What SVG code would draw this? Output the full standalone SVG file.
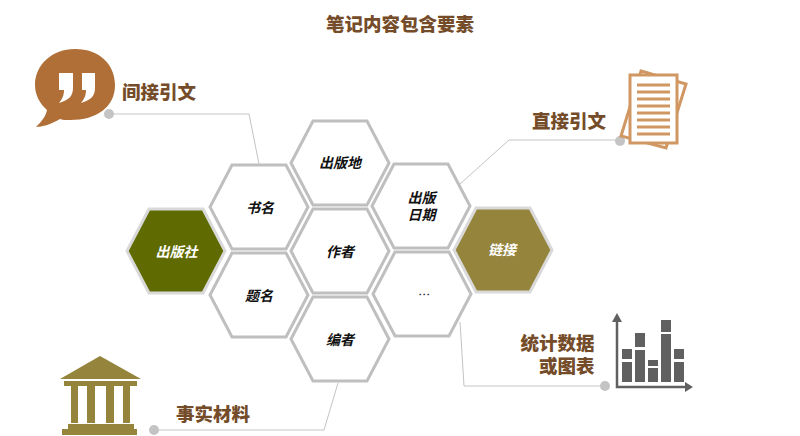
<svg xmlns="http://www.w3.org/2000/svg" width="800" height="436" viewBox="0 0 800 436">
<defs>
<style>
text{font-family:"Noto Sans CJK SC","Noto Sans",sans-serif}
.t{font-size:18.5px;font-weight:900;fill:#754c29}
.h{font-size:14px;font-weight:700;font-style:italic;fill:#111;text-anchor:middle}
.hex{fill:#fff;stroke:#bfbfbf;stroke-width:3}
.hc{stroke:#d9d9d9;stroke-width:3}
.ln{fill:none;stroke:#c4c4c4;stroke-width:1}
.dot{fill:#c4c4c4}
</style>
<polygon id="hx" points="-49,0 -27,-42 27,-42 49,0 27,42 -27,42"/>
</defs>
<rect width="800" height="436" fill="#fff"/>
<text x="400" y="31" class="t" text-anchor="middle">笔记内容包含要素</text>
<g id="connectors">
<polyline class="ln" points="109,114 249,114 259,164"/>
<polyline class="ln" points="620,140 509,140 460,184"/>
<polyline class="ln" points="605,386 464,386 460,322"/>
<polyline class="ln" points="154,430 324,430 338,383"/>
<circle class="dot" cx="109" cy="114" r="5"/>
<circle class="dot" cx="620" cy="141" r="5"/>
<circle class="dot" cx="605" cy="386" r="5"/>
<circle class="dot" cx="154" cy="430" r="5"/>
</g>
<g id="n-publisher"><use href="#hx" x="176" y="251" fill="#5f6b00" class="hc"/><text x="176.500" y="257" class="h" style="fill:#fff">出版社</text></g>
<g id="n-title"><use href="#hx" x="259" y="207" class="hex"/><text x="260" y="213" class="h">书名</text></g>
<g id="n-subject"><use href="#hx" x="259" y="295" class="hex"/><text x="259" y="301" class="h">题名</text></g>
<g id="n-place"><use href="#hx" x="340" y="163" class="hex"/><text x="340" y="168" class="h">出版地</text></g>
<g id="n-author"><use href="#hx" x="340" y="251" class="hex"/><text x="340" y="257" class="h">作者</text></g>
<g id="n-editor"><use href="#hx" x="340" y="339" class="hex"/><text x="340" y="345" class="h">编者</text></g>
<g id="n-date"><use href="#hx" x="421" y="206" class="hex"/><text class="h"><tspan x="421.500" y="203">出版</tspan><tspan x="421.500" y="220">日期</tspan></text></g>
<g id="n-more"><use href="#hx" x="422" y="294" class="hex"/><text x="423" y="299" class="h" style="font-weight:400;font-size:12px">…</text></g>
<g id="n-link"><use href="#hx" x="503" y="250" fill="#95843c" class="hc"/><text x="502" y="255" class="h" style="fill:#fff">链接</text></g>
<g id="i-quote">
<path d="M75,49 C100,49 115,65 115,85 C115,107 97,120 70,120 C65,120 62,120 60,119 C52,124 42,127 36,127 C42,121 46,116 47,110 C40,104 35,95 35,85 C35,65 52,49 75,49 Z" fill="#b06f37"/>
<path d="M59,73 H73 V88 C73,96 69,100 59,103 C62,99 64,96 64,90 H59 Z M82,73 H95 V88 C95,96 91,100 81,103 C84,99 86,96 86,90 H82 Z" fill="#fff"/>
<text x="122" y="99" class="t">间接引文</text>
</g>
<g id="i-doc">
<polygon points="641,71 686,84 666,148 621,136" fill="#fff" stroke="#d09763" stroke-width="3"/>
<rect x="630" y="75" width="47" height="68" fill="#fff" stroke="#d09763" stroke-width="3"/>
<path d="M637,85H670M637,92H670M637,99H670M637,106H670M637,113H670M637,120H670M637,127H670M637,134H670" stroke="#d09763" stroke-width="3" fill="none"/>
<text x="532" y="127.500" class="t">直接引文</text>
</g>
<g id="i-chart">
<path d="M617,320V387H686" fill="none" stroke="#606060" stroke-width="2.5"/>
<polygon points="617,313 612,322 622,322" fill="#606060"/><polygon points="693,387 685,382 685,392" fill="#606060"/>
<path d="M622,349h10v10h-10zM622,362h10v20h-10zM635,333h10v14h-10zM635,350h10v32h-10zM648,360h10v6h-10zM648,368h10v14h-10zM661,320h10v12h-10zM661,334h10v48h-10zM674,349h10v10h-10zM674,362h10v20h-10z" fill="#606060"/>
<text class="t" text-anchor="end"><tspan x="594.500" y="350">统计数据</tspan><tspan x="594.500" y="373">或图表</tspan></text>
</g>
<g id="i-bank">
<polygon points="100,356 141,379 60,379" fill="#95843c"/>
<rect x="64" y="381" width="73" height="5" fill="#95843c"/>
<path d="M71,386h7v37h-7zM87,386h8v37h-8zM106,386h8v37h-8zM123,386h7v37h-7z" fill="#95843c"/>
<path d="M68,424h66v5h3v6h-75v-6h6z" fill="#95843c"/>
<text x="176" y="420.500" class="t">事实材料</text>
</g>
</svg>
